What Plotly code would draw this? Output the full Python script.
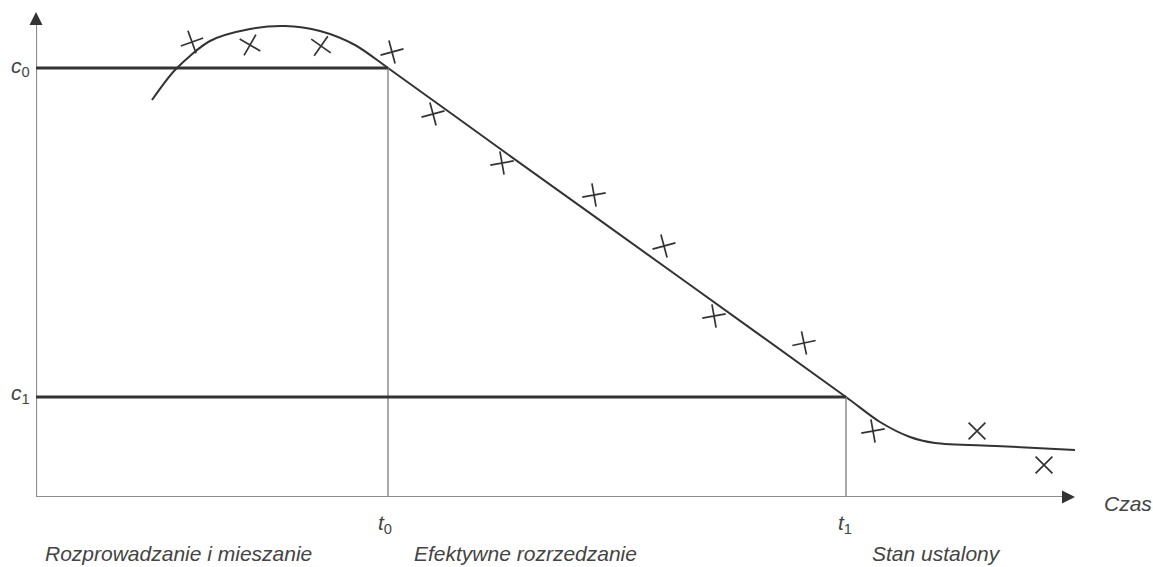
import plotly.graph_objects as go

# Data (units: time offset, concentration offset)
curve_t = [116, 139, 174, 214, 249, 284, 319, 352, 470, 650, 810, 844, 874, 899, 960, 1039]
curve_c = [397, 427, 456, 468, 471, 466, 452, 429, 344, 215, 100, 75, 60, 54, 51, 47]

meas_t = [156, 214, 285, 356, 397, 466, 558, 628, 678, 768, 837, 941, 1008]
meas_c = [455, 452, 451, 445, 383, 334, 302, 251, 181, 154, 66, 66, 32]
meas_angle = [-20, 30, 35, -15, -15, -10, -10, -15, -10, -12, -10, 45, 45]

c0, c1 = 429, 100
t0, t1 = 352, 810
x_max, y_max = 1039, 485

phase_labels = ["Rozprowadzanie i mieszanie", "Efektywne rozrzedzanie", "Stan ustalony"]
phase_pos = [7, 376, 834]

dark = "#333333"
grey = "#8c8c8c"
txt = "#444444"
fam = "Liberation Sans, Arial, sans-serif"

fig = go.Figure()

fig.add_trace(go.Scatter(x=curve_t, y=curve_c, mode="lines",
                         line=dict(color=dark, width=2, shape="spline", smoothing=0.8),
                         hoverinfo="skip", showlegend=False))
fig.add_trace(go.Scatter(x=meas_t, y=meas_c, mode="markers",
                         marker=dict(symbol="cross-thin", size=17, angle=meas_angle,
                                     line=dict(color=dark, width=1.7)),
                         showlegend=False))

shapes = [
    dict(type="line", x0=0, y0=0, x1=0, y1=y_max - 8, line=dict(color=grey, width=2.2)),
    dict(type="line", x0=0, y0=0, x1=x_max - 8, y1=0, line=dict(color=grey, width=2.2)),
    dict(type="line", x0=t0, y0=0, x1=t0, y1=c0, line=dict(color=grey, width=1.5)),
    dict(type="line", x0=t1, y0=0, x1=t1, y1=c1, line=dict(color=grey, width=1.5)),
    dict(type="line", x0=0, y0=c0, x1=t0, y1=c0, line=dict(color=dark, width=3)),
    dict(type="line", x0=0, y0=c1, x1=t1, y1=c1, line=dict(color=dark, width=3)),
]

annotations = [
    dict(x=0, y=y_max, ax=0, ay=y_max - 14, xref="x", yref="y", axref="x", ayref="y",
         showarrow=True, arrowhead=2, arrowsize=1.3, arrowwidth=2, arrowcolor=dark, text=""),
    dict(x=x_max, y=0, ax=x_max - 14, ay=0, xref="x", yref="y", axref="x", ayref="y",
         showarrow=True, arrowhead=2, arrowsize=1.3, arrowwidth=2, arrowcolor=dark, text=""),
    dict(x=0, y=c0, xref="x", yref="y", xshift=-4, xanchor="right", yanchor="middle", yshift=1,
         text="<i>c</i><sub>0</sub>", showarrow=False, font=dict(family=fam, size=21, color=txt)),
    dict(x=0, y=c1, xref="x", yref="y", xshift=-4, xanchor="right", yanchor="middle", yshift=3,
         text="<i>c</i><sub>1</sub>", showarrow=False, font=dict(family=fam, size=21, color=txt)),
    dict(x=t0 - 3, y=0, xref="x", yref="y", yshift=-12, xanchor="center", yanchor="top",
         text="<i>t</i><sub>0</sub>", showarrow=False, font=dict(family=fam, size=21, color=txt)),
    dict(x=t1 - 1, y=0, xref="x", yref="y", yshift=-12, xanchor="center", yanchor="top",
         text="<i>t</i><sub>1</sub>", showarrow=False, font=dict(family=fam, size=21, color=txt)),
    dict(x=x_max, y=0, xref="x", yref="y", xshift=27, xanchor="left", yanchor="middle", yshift=-6,
         text="Czas", showarrow=False, font=dict(family=fam, size=21, color=txt, style="italic")),
]
for lab, pos in zip(phase_labels, phase_pos):
    annotations.append(dict(x=pos, y=0, xref="x", yref="y", yshift=-43, xanchor="left", yanchor="top",
                            text=lab, showarrow=False,
                            font=dict(family=fam, size=21, color=txt, style="italic")))

fig.update_layout(
    width=1153, height=567,
    margin=dict(l=36, r=78, t=12, b=70),
    paper_bgcolor="white", plot_bgcolor="white",
    xaxis=dict(range=[0, x_max], visible=False, fixedrange=True),
    yaxis=dict(range=[0, y_max], visible=False, fixedrange=True),
    shapes=shapes, annotations=annotations, showlegend=False,
)

fig.write_html("out.html", include_plotlyjs=True, config={"displayModeBar": False},
               post_script="document.body.style.margin='0';document.body.style.overflow='hidden';")
